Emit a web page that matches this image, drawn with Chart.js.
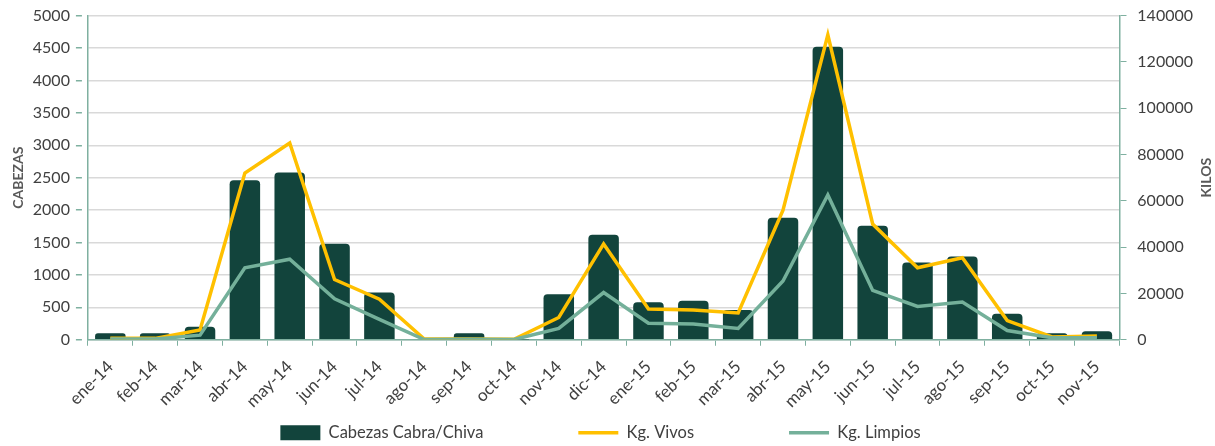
<!DOCTYPE html>
<html>
<head>
<meta charset="utf-8">
<script src="https://cdn.jsdelivr.net/npm/chart.js@4.4.1/dist/chart.umd.min.js"></script>
<style>
    html, body { margin: 0; padding: 0; background: #ffffff; }
    #wrap { width: 1215px; height: 446px; position: relative; }
</style>
</head>
<body>
<div id="wrap"><canvas id="cabrasChart"></canvas></div>
<script>
// Datos
const meses = ['ene-14', 'feb-14', 'mar-14', 'abr-14', 'may-14', 'jun-14', 'jul-14', 'ago-14',
    'sep-14', 'oct-14', 'nov-14', 'dic-14', 'ene-15', 'feb-15', 'mar-15', 'abr-15', 'may-15',
    'jun-15', 'jul-15', 'ago-15', 'sep-15', 'oct-15', 'nov-15'];

const cabezas = [100, 100, 200, 2460, 2580, 1480, 730, 10, 100, 5, 700, 1620, 580, 600, 460,
    1880, 4520, 1760, 1190, 1285, 400, 100, 130];

const kgVivos = [600, 600, 4200, 72000, 85000, 26000, 17500, 300, 300, 200, 9600, 41400, 13300,
    12900, 11600, 56000, 131700, 50000, 31100, 35400, 8300, 1200, 1600];

const kgLimpios = [300, 300, 2000, 31100, 34800, 17700, 8800, 100, 200, 100, 4900, 20400, 7100,
    6800, 4900, 25400, 62500, 21300, 14400, 16300, 4000, 850, 850];

const fontFamily = 'Lato, "Open Sans", sans-serif';
const axisColor = '#7FB0A0';
const textColor = '#404040';
const titleColor = '#595959';

// titulo del eje derecho, leido de abajo hacia arriba como el izquierdo
const kilosTitle = {
    id: 'kilosTitle',
    afterDraw(chart) {
        const ctx = chart.ctx;
        const area = chart.chartArea;
        ctx.save();
        ctx.translate(1206, (area.top + area.bottom) / 2);
        ctx.rotate(-Math.PI / 2);
        ctx.fillStyle = titleColor;
        ctx.font = 'bold 14px ' + fontFamily;
        ctx.textAlign = 'center';
        ctx.textBaseline = 'middle';
        ctx.fillText('KILOS', 0, 0);
        ctx.restore();
    }
};

function loadCabrasChart() {
    const canvas = document.getElementById('cabrasChart');
    const ctx = canvas.getContext('2d');

    new Chart(ctx, {
        type: 'bar',
        data: {
            labels: meses,
            datasets: [{
                type: 'bar',
                label: 'Cabezas Cabra/Chiva',
                data: cabezas,
                yAxisID: 'y',
                backgroundColor: '#12443C',
                borderRadius: 4,
                barPercentage: 0.68,
                categoryPercentage: 1,
                order: 2
            }, {
                type: 'line',
                label: 'Kg. Vivos',
                data: kgVivos,
                yAxisID: 'y1',
                borderColor: '#FFC000',
                backgroundColor: '#FFC000',
                borderWidth: 3.5,
                pointRadius: 0,
                tension: 0,
                order: 1
            }, {
                type: 'line',
                label: 'Kg. Limpios',
                data: kgLimpios,
                yAxisID: 'y1',
                borderColor: '#74B09A',
                backgroundColor: '#74B09A',
                borderWidth: 3.5,
                pointRadius: 0,
                tension: 0,
                order: 0
            }]
        },
        plugins: [kilosTitle],
        options: {
            responsive: true,
            maintainAspectRatio: false,
            animation: false,
            layout: {
                padding: { top: 0, left: 2, right: 16, bottom: -5 }
            },
            plugins: {
                tooltip: { enabled: false },
                legend: {
                    display: true,
                    position: 'bottom',
                    labels: {
                        usePointStyle: true,
                        pointStyleWidth: 40,
                        boxHeight: 15,
                        padding: 2,
                        color: textColor,
                        font: { family: fontFamily, size: 16.5, lineHeight: 1 },
                        sort: (a, b) => a.datasetIndex - b.datasetIndex,
                        generateLabels: function (chart) {
                            const items = Chart.defaults.plugins.legend.labels.generateLabels(chart);
                            items.forEach(item => {
                                if (item.datasetIndex === 0) {
                                    item.pointStyle = 'rect';
                                    item.lineWidth = 0;
                                    item.strokeStyle = '#12443C';
                                } else {
                                    item.pointStyle = 'line';
                                    item.lineWidth = 3.5;
                                }
                                // espacio extra entre elementos de la leyenda
                                if (item.datasetIndex < 2) {
                                    item.text = item.text + ' '.repeat(22);
                                }
                            });
                            return items;
                        }
                    }
                }
            },
            scales: {
                x: {
                    grid: {
                        offset: true,
                        drawOnChartArea: false,
                        drawTicks: true,
                        tickLength: 6,
                        color: axisColor
                    },
                    border: { color: axisColor, width: 1.5 },
                    ticks: {
                        color: textColor,
                        font: { family: fontFamily, size: 17 },
                        maxRotation: 45,
                        minRotation: 45,
                        autoSkip: false,
                        padding: 11
                    }
                },
                y: {
                    position: 'left',
                    min: 0,
                    max: 5000,
                    grid: {
                        color: '#D9D9D9',
                        lineWidth: 1.5,
                        drawTicks: true,
                        tickLength: 12,
                        tickColor: axisColor,
                        tickBorderDash: [6, 40]
                    },
                    border: { color: axisColor, width: 1.5 },
                    ticks: {
                        stepSize: 500,
                        color: textColor,
                        font: { family: fontFamily, size: 16 },
                        padding: 6,
                        callback: value => String(value)
                    },
                    title: {
                        display: true,
                        text: 'CABEZAS',
                        color: titleColor,
                        font: { family: fontFamily, size: 14, weight: 'bold' },
                        padding: { top: 8, bottom: 0 }
                    }
                },
                y1: {
                    position: 'right',
                    min: 0,
                    max: 140000,
                    grid: {
                        drawOnChartArea: false,
                        drawTicks: true,
                        tickLength: 12,
                        color: axisColor,
                        tickBorderDash: [6, 40]
                    },
                    border: { color: axisColor, width: 1.5 },
                    ticks: {
                        stepSize: 20000,
                        color: textColor,
                        font: { family: fontFamily, size: 16 },
                        padding: 6,
                        callback: value => String(value)
                    }
                }
            }
        }
    });
}

loadCabrasChart();
</script>
</body>
</html>
